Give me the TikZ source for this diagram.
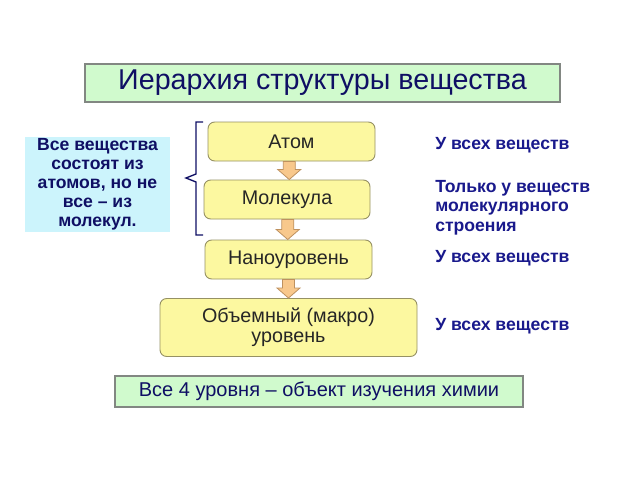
\documentclass[tikz,border=0pt]{standalone}
\usepackage{fontspec}
\setmainfont{Liberation Sans}
\usetikzlibrary{calc}
\definecolor{navy}{RGB}{15,15,100}
\definecolor{rnavy}{RGB}{25,25,140}
\definecolor{greenfill}{RGB}{208,250,205}
\definecolor{cyanfill}{RGB}{204,244,252}
\definecolor{yelfill}{RGB}{252,248,160}
\definecolor{yeledge}{RGB}{150,145,100}
\definecolor{arrfill}{RGB}{248,200,140}
\definecolor{arredge}{RGB}{190,145,95}
\definecolor{gredge}{RGB}{130,135,130}
\tikzset{
  greenbox/.style={draw=gredge, line width=0.8pt, fill=greenfill, text=navy, inner sep=0pt},
  levelbox/.style={draw=yeledge, line width=0.7pt, fill=yelfill, rounded corners=5pt, text=black!85, font=\fontsize{14.8}{15.2}\selectfont, align=center, inner sep=0pt},
  infobox/.style={fill=cyanfill, text=navy, font=\bfseries\fontsize{13.2}{14.2}\selectfont, align=center, inner sep=0pt},
  note/.style={text=rnavy, font=\bfseries\fontsize{13.2}{14.8}\selectfont, align=left, anchor=west, inner sep=0pt},
  blockarr/.style={draw=arredge, fill=arrfill, line width=0.6pt, line join=miter},
  bracestyle/.style={draw=navy, line width=1pt}
}
\begin{document}
\begin{tikzpicture}[x=0.75pt,y=-0.75pt]
\useasboundingbox (0,0) rectangle (640,480);
\fill[white] (0,0) rectangle (640,480);
% title
\node[greenbox, minimum width=475*0.75pt, minimum height=38*0.75pt, font=\fontsize{21.5}{24}\selectfont] (title) at (322.5,83) {Иерархия структуры вещества};
% left info box
\node[infobox, minimum width=145*0.75pt, minimum height=95*0.75pt] (info) at (97.5,184.5) {Все вещества\\состоят из\\атомов, но не\\все -- из\\молекул.};
% level boxes
\node[levelbox, minimum width=167*0.75pt, minimum height=39*0.75pt] (atom) at (291.5,141.5) {Атом};
\node[levelbox, minimum width=166*0.75pt, minimum height=39*0.75pt] (mol) at (287,199.5) {Молекула};
\node[levelbox, minimum width=167*0.75pt, minimum height=39*0.75pt] (nano) at (288.5,259.5) {Наноуровень};
\node[levelbox, minimum width=257*0.75pt, minimum height=58*0.75pt] (macro) at (288.5,327.5) {Объемный (макро)\\уровень};
% block arrows
\foreach \a/\b in {atom/mol, mol/nano, nano/macro}{
  \draw[blockarr] let \p1=($(\a.south)!0.5!(\b.north)$), \p2=(\a.south), \p3=(\b.north) in
    (\x1-4.5pt,\y2) -- (\x1+4.5pt,\y2) -- (\x1+4.5pt,\y3+7.5pt) -- (\x1+8.6pt,\y3+7.5pt)
    -- (\x1,\y3) -- (\x1-8.6pt,\y3+7.5pt) -- (\x1-4.5pt,\y3+7.5pt) -- cycle;
}
% brace
\draw[bracestyle] (203,122) -- (196,122) -- (196,174) -- (186,178) -- (196,182) -- (196,235) -- (203,235);
% right notes
\node[note] (n1) at (435,145) {У всех веществ};
\node[note] (n2) at (435,207.5) {Только у веществ\\молекулярного\\строения};
\node[note] (n3) at (435,258) {У всех веществ};
\node[note] (n4) at (435,326) {У всех веществ};
% bottom box
\node[greenbox, minimum width=408*0.75pt, minimum height=31*0.75pt, font=\fontsize{15}{17}\selectfont] (bottom) at (319,391.5) {Все 4 уровня -- объект изучения химии};
\end{tikzpicture}
\end{document}
